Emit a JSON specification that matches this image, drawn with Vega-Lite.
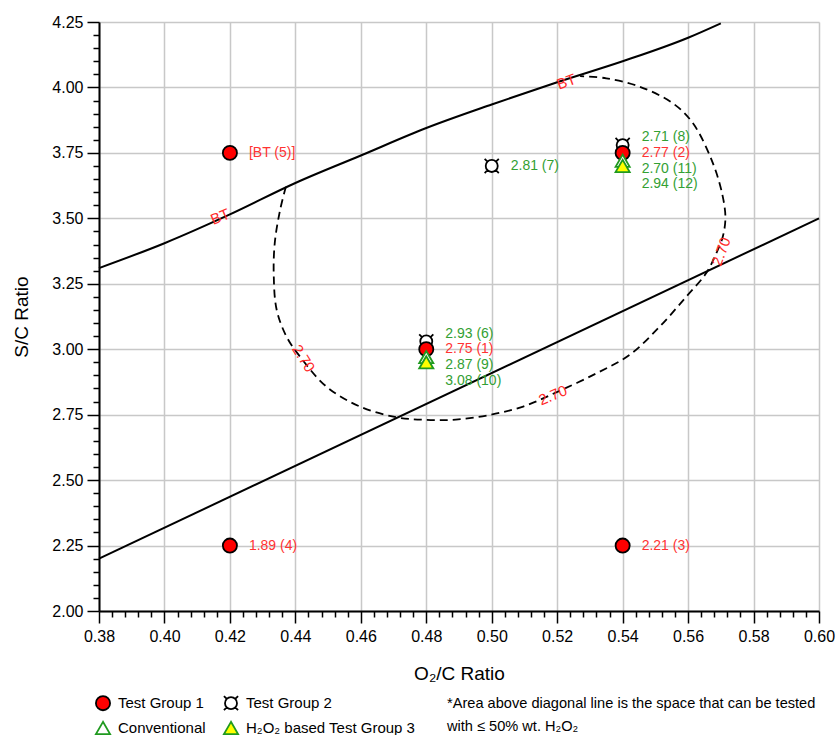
{
  "$schema": "https://vega.github.io/schema/vega-lite/v6.json",
  "width": 720,
  "height": 589,
  "autosize": {"type": "none"},
  "padding": {"left": 99, "top": 22, "right": 19, "bottom": 124},
  "background": "white",
  "title": {
    "text": ["*Area above diagonal line is the space that can be tested", "with ≤ 50% wt. H₂O₂"],
    "orient": "bottom",
    "anchor": "start",
    "frame": "group",
    "align": "left",
    "baseline": "top",
    "dx": 348,
    "dy": -42,
    "offset": 0,
    "font": "Liberation Sans",
    "fontSize": 14.6,
    "fontWeight": "normal",
    "lineHeight": 23,
    "color": "black"
  },
  "config": {
    "view": {"stroke": null},
    "font": "Liberation Sans",
    "axis": {
      "domainColor": "black",
      "domainWidth": 2,
      "tickColor": "black",
      "tickWidth": 1.5,
      "gridColor": "#c8c8c8",
      "gridWidth": 1.5,
      "labelFont": "Liberation Sans",
      "labelFontSize": 16,
      "labelColor": "black",
      "titleFont": "Liberation Sans",
      "titleFontSize": 19,
      "titleFontWeight": "normal",
      "titleColor": "black",
      "labelOverlap": false,
      "labelBound": false,
      "labelFlush": false
    }
  },
  "datasets": {
    "points": [
      {"x": 0.48, "y": 3.03, "group": "Test Group 2"},
      {"x": 0.50, "y": 3.70, "group": "Test Group 2"},
      {"x": 0.54, "y": 3.78, "group": "Test Group 2"},
      {"x": 0.42, "y": 3.75, "group": "Test Group 1"},
      {"x": 0.48, "y": 3.00, "group": "Test Group 1"},
      {"x": 0.54, "y": 3.75, "group": "Test Group 1"},
      {"x": 0.42, "y": 2.25, "group": "Test Group 1"},
      {"x": 0.54, "y": 2.25, "group": "Test Group 1"},
      {"x": 0.48, "y": 2.97, "group": "Conventional"},
      {"x": 0.54, "y": 3.72, "group": "Conventional"},
      {"x": 0.48, "y": 2.95, "group": "H₂O₂ based  Test Group 3"},
      {"x": 0.54, "y": 3.70, "group": "H₂O₂ based  Test Group 3"}
    ],
    "labels": [
      {"x": 0.42, "y": 3.75, "text": "[BT (5)]", "series": "red"},
      {"x": 0.48, "y": 3.00, "text": "2.75 (1)", "series": "red"},
      {"x": 0.54, "y": 3.75, "text": "2.77 (2)", "series": "red"},
      {"x": 0.42, "y": 2.25, "text": "1.89 (4)", "series": "red"},
      {"x": 0.54, "y": 2.25, "text": "2.21 (3)", "series": "red"},
      {"x": 0.50, "y": 3.70, "text": "2.81 (7)", "series": "green"},
      {"x": 0.48, "y": 3.06, "text": "2.93 (6)", "series": "green"},
      {"x": 0.48, "y": 2.94, "text": "2.87 (9)", "series": "green"},
      {"x": 0.48, "y": 2.88, "text": "3.08 (10)", "series": "green"},
      {"x": 0.54, "y": 3.81, "text": "2.71 (8)", "series": "green"},
      {"x": 0.54, "y": 3.69, "text": "2.70 (11)", "series": "green"},
      {"x": 0.54, "y": 3.63, "text": "2.94 (12)", "series": "green"}
    ],
    "upper": [
      {"x": 0.38, "y": 3.31},
      {"x": 0.40, "y": 3.405},
      {"x": 0.42, "y": 3.515},
      {"x": 0.44, "y": 3.635},
      {"x": 0.46, "y": 3.74},
      {"x": 0.48, "y": 3.845},
      {"x": 0.50, "y": 3.935},
      {"x": 0.52, "y": 4.02},
      {"x": 0.54, "y": 4.10},
      {"x": 0.56, "y": 4.19},
      {"x": 0.57, "y": 4.245}
    ],
    "lower": [
      {"x": 0.38, "y": 2.20},
      {"x": 0.60, "y": 3.50}
    ],
    "contour": [
      {"seq": 1, "x": 0.4371, "y": 3.621},
      {"seq": 2, "x": 0.4353, "y": 3.53},
      {"seq": 3, "x": 0.4337, "y": 3.405},
      {"seq": 4, "x": 0.4334, "y": 3.28},
      {"seq": 5, "x": 0.4343, "y": 3.15},
      {"seq": 6, "x": 0.4373, "y": 3.048},
      {"seq": 7, "x": 0.4414, "y": 2.972},
      {"seq": 8, "x": 0.4495, "y": 2.857},
      {"seq": 9, "x": 0.4597, "y": 2.781},
      {"seq": 10, "x": 0.4709, "y": 2.74},
      {"seq": 11, "x": 0.48, "y": 2.73},
      {"seq": 12, "x": 0.489, "y": 2.731},
      {"seq": 13, "x": 0.4994, "y": 2.749},
      {"seq": 14, "x": 0.5096, "y": 2.781},
      {"seq": 15, "x": 0.5197, "y": 2.835},
      {"seq": 16, "x": 0.532, "y": 2.908},
      {"seq": 17, "x": 0.5421, "y": 2.978},
      {"seq": 18, "x": 0.5513, "y": 3.086},
      {"seq": 19, "x": 0.5594, "y": 3.20},
      {"seq": 20, "x": 0.5655, "y": 3.29},
      {"seq": 21, "x": 0.5686, "y": 3.366},
      {"seq": 22, "x": 0.5706, "y": 3.43},
      {"seq": 23, "x": 0.5714, "y": 3.50},
      {"seq": 24, "x": 0.5706, "y": 3.583},
      {"seq": 25, "x": 0.5676, "y": 3.71},
      {"seq": 26, "x": 0.5615, "y": 3.863},
      {"seq": 27, "x": 0.5554, "y": 3.939},
      {"seq": 28, "x": 0.5452, "y": 4.003},
      {"seq": 29, "x": 0.535, "y": 4.035},
      {"seq": 30, "x": 0.527, "y": 4.043}
    ],
    "contourLabels": [
      {"id": "a", "x": 0.4425, "y": 2.965, "text": "2.70"},
      {"id": "b", "x": 0.5187, "y": 2.824, "text": "2.70"},
      {"id": "c", "x": 0.5701, "y": 3.373, "text": "2.70"},
      {"id": "d", "x": 0.417, "y": 3.506, "text": "BT"},
      {"id": "e", "x": 0.5228, "y": 4.022, "text": "BT"}
    ]
  },
  "encoding": {
    "x": {
      "field": "x",
      "type": "quantitative",
      "scale": {"domain": [0.38, 0.60], "nice": false, "zero": false},
      "axis": {
        "title": "O₂/C Ratio",
        "titlePadding": 20,
        "values": [0.38,0.384,0.388,0.392,0.396,0.40,0.404,0.408,0.412,0.416,0.42,0.424,0.428,0.432,0.436,0.44,0.444,0.448,0.452,0.456,0.46,0.464,0.468,0.472,0.476,0.48,0.484,0.488,0.492,0.496,0.50,0.504,0.508,0.512,0.516,0.52,0.524,0.528,0.532,0.536,0.54,0.544,0.548,0.552,0.556,0.56,0.564,0.568,0.572,0.576,0.58,0.584,0.588,0.592,0.596,0.60],
        "labelExpr": "abs(datum.value*50 - round(datum.value*50)) < 0.01 ? format(datum.value, '.2f') : ''",
        "tickSize": {"condition": {"test": "abs(datum.value*50 - round(datum.value*50)) < 0.01", "value": 12}, "value": 6},
        "gridOpacity": {"condition": {"test": "abs(datum.value*50 - round(datum.value*50)) < 0.01", "value": 1}, "value": 0},
        "labelPadding": 5
      }
    },
    "y": {
      "field": "y",
      "type": "quantitative",
      "scale": {"domain": [2.0, 4.25], "nice": false, "zero": false},
      "axis": {
        "title": "S/C Ratio",
        "titlePadding": 20,
        "values": [2.0,2.05,2.1,2.15,2.2,2.25,2.3,2.35,2.4,2.45,2.5,2.55,2.6,2.65,2.7,2.75,2.8,2.85,2.9,2.95,3.0,3.05,3.1,3.15,3.2,3.25,3.3,3.35,3.4,3.45,3.5,3.55,3.6,3.65,3.7,3.75,3.8,3.85,3.9,3.95,4.0,4.05,4.1,4.15,4.2,4.25],
        "labelExpr": "abs(datum.value*4 - round(datum.value*4)) < 0.01 ? format(datum.value, '.2f') : ''",
        "tickSize": {"condition": {"test": "abs(datum.value*4 - round(datum.value*4)) < 0.01", "value": 12}, "value": 6},
        "gridOpacity": {"condition": {"test": "abs(datum.value*4 - round(datum.value*4)) < 0.01", "value": 1}, "value": 0},
        "labelPadding": 4
      }
    }
  },
  "layer": [
    {
      "data": {"name": "lower"},
      "mark": {"type": "line", "color": "black", "strokeWidth": 2},
      "encoding": {}
    },
    {
      "data": {"name": "upper"},
      "mark": {"type": "line", "color": "black", "strokeWidth": 2, "interpolate": "monotone"},
      "encoding": {}
    },
    {
      "data": {"name": "contour"},
      "mark": {"type": "line", "color": "black", "strokeWidth": 1.8, "strokeDash": [8, 5], "interpolate": "catmull-rom"},
      "encoding": {"order": {"field": "seq", "type": "quantitative"}}
    },
    {
      "data": {"name": "contourLabels"},
      "transform": [{"filter": "datum.id == 'a'"}],
      "mark": {"type": "text", "color": "#ff2a2a", "fontSize": 15, "angle": 58, "font": "Liberation Sans"},
      "encoding": {"text": {"field": "text"}}
    },
    {
      "data": {"name": "contourLabels"},
      "transform": [{"filter": "datum.id == 'b'"}],
      "mark": {"type": "text", "color": "#ff2a2a", "fontSize": 15, "angle": -22, "font": "Liberation Sans"},
      "encoding": {"text": {"field": "text"}}
    },
    {
      "data": {"name": "contourLabels"},
      "transform": [{"filter": "datum.id == 'c'"}],
      "mark": {"type": "text", "color": "#ff2a2a", "fontSize": 15, "angle": -70, "font": "Liberation Sans"},
      "encoding": {"text": {"field": "text"}}
    },
    {
      "data": {"name": "contourLabels"},
      "transform": [{"filter": "datum.id == 'd'"}],
      "mark": {"type": "text", "color": "#ff2a2a", "fontSize": 15, "angle": -23, "font": "Liberation Sans"},
      "encoding": {"text": {"field": "text"}}
    },
    {
      "data": {"name": "contourLabels"},
      "transform": [{"filter": "datum.id == 'e'"}],
      "mark": {"type": "text", "color": "#ff2a2a", "fontSize": 15, "angle": -20, "font": "Liberation Sans"},
      "encoding": {"text": {"field": "text"}}
    },
    {
      "data": {"name": "points"},
      "mark": {"type": "point", "filled": false, "size": 200, "strokeWidth": 1.8, "opacity": 1},
      "encoding": {
        "shape": {
          "field": "group",
          "type": "nominal",
          "scale": {
            "domain": ["Test Group 1", "Test Group 2", "Conventional", "H₂O₂ based  Test Group 3"],
            "range": ["circle", "M0.85,0A0.85,0.85,0,1,1,-0.85,0A0.85,0.85,0,1,1,0.85,0Z M-0.6,-0.6L-1,-1 M0.6,-0.6L1,-1 M-0.6,0.6L-1,1 M0.6,0.6L1,1", "triangle-up", "triangle-up"]
          },
          "legend": {
            "title": null,
            "orient": "none",
            "legendX": -4,
            "legendY": 673,
            "columns": 2,
            "direction": "horizontal",
            "columnPadding": 14,
            "rowPadding": 4,
            "labelFont": "Liberation Sans",
            "labelFontSize": 15,
            "labelLimit": 400,
            "labelColor": "black",
            "symbolSize": 200,
            "symbolStrokeWidth": 1.8,
            "labelOffset": 7,
            "padding": 0
          }
        },
        "fill": {
          "field": "group",
          "type": "nominal",
          "scale": {
            "domain": ["Test Group 1", "Test Group 2", "Conventional", "H₂O₂ based  Test Group 3"],
            "range": ["#ff0000", "#ffffff", "#ffffff", "#ffff00"]
          }
        },
        "stroke": {
          "field": "group",
          "type": "nominal",
          "scale": {
            "domain": ["Test Group 1", "Test Group 2", "Conventional", "H₂O₂ based  Test Group 3"],
            "range": ["#000000", "#000000", "#1f9a1f", "#1f9a1f"]
          }
        }
      }
    },
    {
      "data": {"name": "labels"},
      "transform": [{"filter": "datum.series == 'red'"}],
      "mark": {"type": "text", "align": "left", "baseline": "middle", "dx": 19, "fontSize": 14, "color": "#ff3333", "font": "Liberation Sans"},
      "encoding": {"text": {"field": "text"}}
    },
    {
      "data": {"name": "labels"},
      "transform": [{"filter": "datum.series == 'green'"}],
      "mark": {"type": "text", "align": "left", "baseline": "middle", "dx": 19, "fontSize": 14, "color": "#33a033", "font": "Liberation Sans"},
      "encoding": {"text": {"field": "text"}}
    }
  ]
}
